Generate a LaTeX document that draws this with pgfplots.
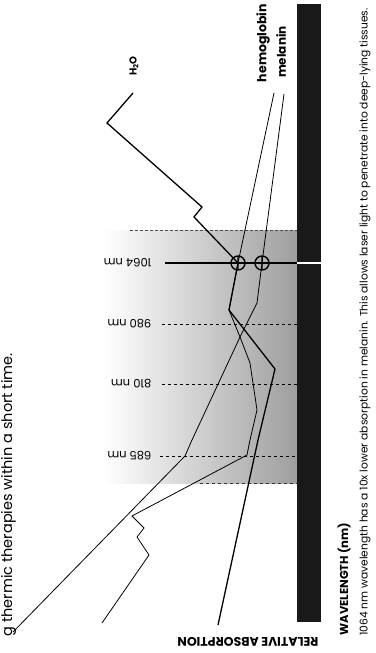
\documentclass[border=0pt]{standalone}
\usepackage{pgfplots}
\pgfplotsset{compat=1.18}
\usepackage{fontspec}
\setmainfont{Poppins}
\begin{document}
\begin{tikzpicture}
\begin{axis}[scale only axis, width=375pt, height=653pt,
  xmin=0, xmax=375, ymin=0, ymax=653, y dir=reverse,
  axis lines=none, clip=false]
% stippled band between 685 and 1064 nm region
\fill[left color=white, right color=black!38] (axis cs:105,230) rectangle (axis cs:297,483);
% dashed limits of the band
\addplot[black!70, densely dashed, thin] coordinates {(130,230) (297,230)};
\addplot[black!80, dashed, thin] coordinates {(200,483) (297,483)};
% spectrum bar
\fill[black!90] (axis cs:297,4) rectangle (axis cs:321,622);
% wavelength grid lines
\addplot[black, dashed, thin] coordinates {(160,456) (297,456)};
\addplot[black, dashed, thin] coordinates {(162,384) (297,384)};
\addplot[black, dashed, thin] coordinates {(162,324) (297,324)};
\addplot[black, line width=1.6pt] coordinates {(165,263) (297,263)};
\addplot[white, line width=1.2pt] coordinates {(297,263) (321,263)};
% melanin
\addplot[black, line width=0.8pt] coordinates {(284,94) (262,263) (257,303) (240,337) (192,440) (185,456) (13,632)};
% hemoglobin
\addplot[black, line width=0.8pt] coordinates {(274,93) (238,263) (229,310) (240,337) (250,363) (257,410) (250,440) (247,455) (132,516) (144,528) (137,537) (149,555) (102,623)};
% water
\addplot[black, line width=1.3pt] coordinates {(133,93) (107,123) (202,207) (194,217) (238,263) (229,310) (275,369) (258,440) (218,625)};
% marked points at 1064 nm
\addplot[only marks, mark=oplus, mark size=7pt, mark options={line width=1.4pt, fill=none, draw=black}] coordinates {(238,263) (262,263)};
% tick labels
\node[rotate=180, anchor=west, font=\fontsize{11.5}{12}\selectfont] at (axis cs:155,263) {1064 nm};
\node[rotate=180, anchor=west, font=\fontsize{11.5}{12}\selectfont] at (axis cs:155,324) {980 nm};
\node[rotate=180, anchor=west, font=\fontsize{11.5}{12}\selectfont] at (axis cs:155,384) {810 nm};
\node[rotate=180, anchor=west, font=\fontsize{11.5}{12}\selectfont] at (axis cs:155,456) {685 nm};
% series labels
\node[rotate=90, font=\bfseries\fontsize{10}{11}\selectfont] at (axis cs:134,66) {H\textsubscript{2}O};
\node[rotate=90, font=\bfseries\fontsize{12.5}{13}\selectfont] at (axis cs:263,43) {hemoglobin};
\node[rotate=90, font=\bfseries\fontsize{12}{13}\selectfont] at (axis cs:281,52) {melanin};
% axis titles
\node[rotate=180, font=\bfseries\fontsize{12.5}{13}\selectfont] at (axis cs:248,642) {RELATIVE ABSORPTION};
\node[rotate=90, font=\bfseries\fontsize{11.5}{12}\selectfont] at (axis cs:344,579) {WAVELENGTH (nm)};
\node[rotate=90, font=\fontsize{10.7}{11}\selectfont] at (axis cs:365,322) {1064 nm wavelength has a 10x lower absorption in melanin. This allows laser light to penetrate into deep-lying tissues.};
% text from the page's previous line
\node[rotate=90, anchor=north east, inner sep=0pt, font=\fontsize{14.5}{15}\selectfont] at (axis cs:1,353) {g thermic therapies within a short time.};
\end{axis}
\pgfresetboundingbox
\path (current axis.south west) rectangle (current axis.north east);
\end{tikzpicture}
\end{document}
